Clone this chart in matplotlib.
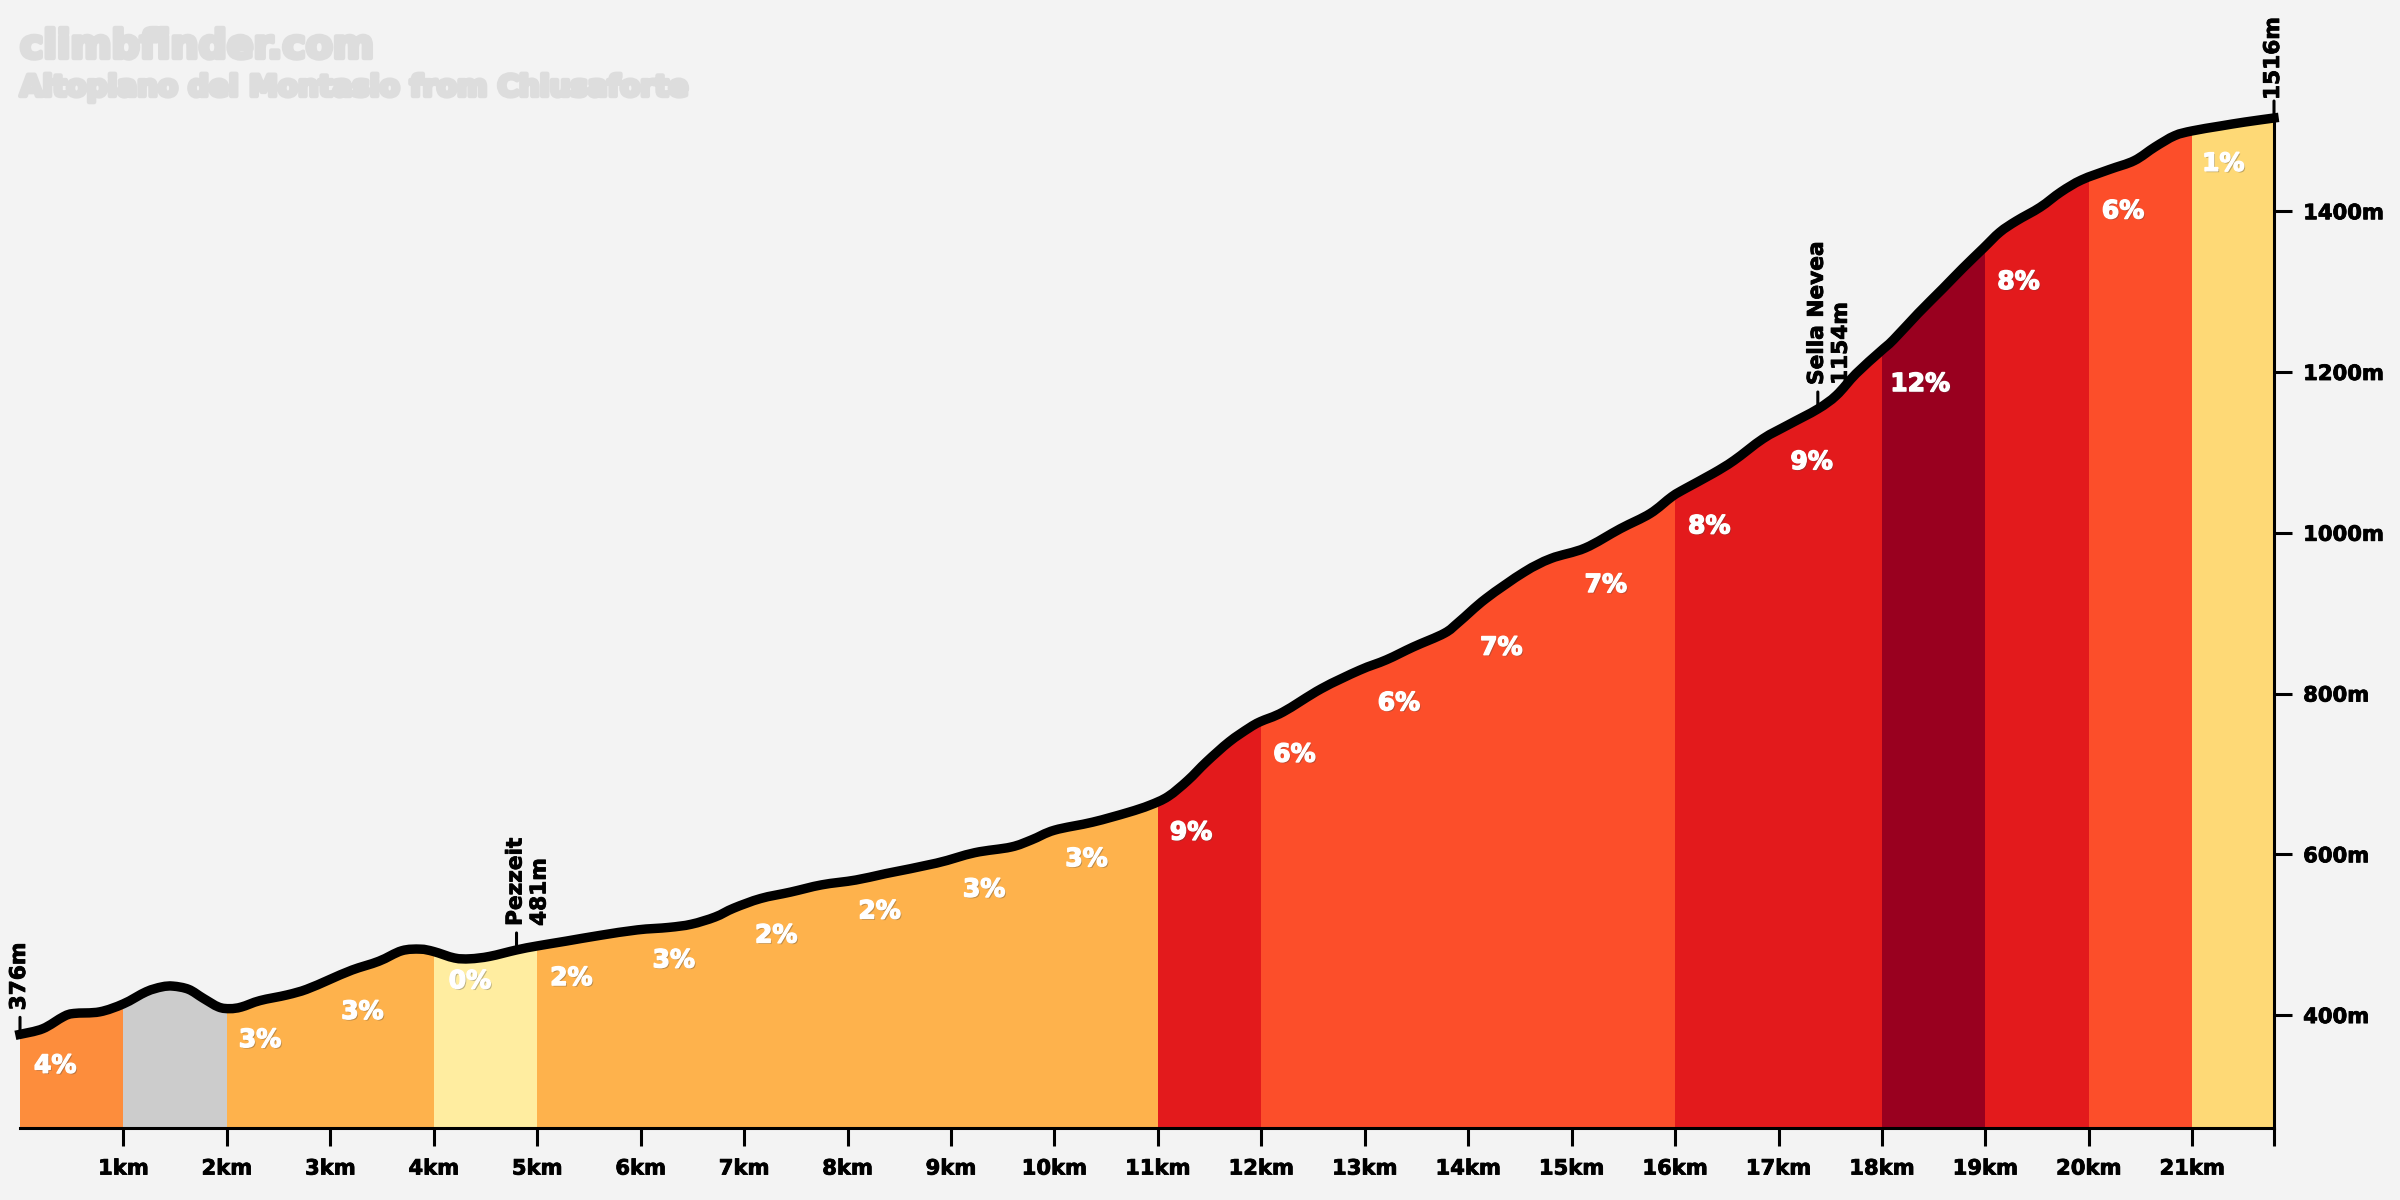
import matplotlib
matplotlib.use("Agg")
import matplotlib.pyplot as plt
import matplotlib.patheffects as pe
from matplotlib.path import Path
from matplotlib.patches import PathPatch

BG = "#f3f3f3"

# profile
km = [0, 0.22, 0.42, 0.52, 0.77, 1.0, 1.22, 1.37, 1.48, 1.63, 1.77, 1.92, 2.03, 2.14, 2.32,
      2.58, 2.77, 2.99, 3.21, 3.47, 3.69, 3.87, 4.0, 4.2, 4.35, 4.54, 4.8, 5.0, 5.28, 5.6,
      5.97, 6.27, 6.49, 6.72, 6.9, 7.16, 7.45, 7.75, 8.08, 8.37, 8.86, 9.23, 9.58, 9.78, 10.0,
      10.37, 10.71, 10.92, 11.1, 11.29, 11.47, 11.69, 11.88, 11.99, 12.21, 12.58, 12.95, 13.21,
      13.47, 13.77, 13.91, 14.17, 14.54, 14.8, 15.13, 15.47, 15.76, 15.97, 16.1, 16.37, 16.57,
      16.85, 17.09, 17.38, 17.56, 17.75, 17.98, 18.11, 18.35, 18.59, 18.78, 18.98, 19.14, 19.3,
      19.53, 19.73, 19.93, 20.2, 20.44, 20.64, 20.83, 21.0, 21.27, 21.51, 21.79]
elev = [376, 383, 398, 402, 404, 414, 429, 435, 436, 432, 421, 410, 408, 410, 418,
        425, 432, 444, 456, 467, 480, 482, 479, 471, 470, 473, 481, 486, 492, 499,
        506, 509, 513, 522, 533, 545, 553, 562, 568, 576, 589, 602, 609, 618, 630,
        640, 652, 661, 672, 692, 715, 740, 757, 765, 777, 806, 829, 842,
        858, 875, 889, 918, 951, 968, 981, 1005, 1024, 1045, 1055, 1074, 1090,
        1117, 1134, 1154, 1171, 1198, 1225, 1240, 1273, 1304, 1329, 1354, 1374, 1388,
        1405, 1424, 1439, 1452, 1463, 1480, 1494, 1500, 1506, 1511, 1516]

seg_start = [0, 1, 2, 4, 5, 11, 12, 16, 18, 19, 20, 21]
seg_width = [1, 1, 2, 1, 6, 1, 4, 2, 1, 1, 1, 0.79]
seg_color = ["#fd8d3c", "#cccccc", "#feb24c", "#ffeda0", "#feb24c", "#e31a1c",
             "#fc4e2a", "#e31a1c", "#99001f", "#e31a1c", "#fc4e2a", "#fed976"]

pct_text = ["4%", "3%", "3%", "0%", "2%", "3%", "2%", "2%", "3%", "3%", "9%",
            "6%", "6%", "7%", "7%", "8%", "9%", "12%", "8%", "6%", "1%"]
pct_km = [0.34, 2.32, 3.31, 4.35, 5.33, 6.32, 7.31, 8.31, 9.32, 10.31, 11.32,
          12.32, 13.33, 14.32, 15.33, 16.33, 17.32, 18.37, 19.32, 20.33, 21.3]
pct_el = [337, 369, 404, 442, 446, 468, 499, 529, 556, 594, 627,
          724, 788, 857, 935, 1008, 1088, 1185, 1312, 1400, 1459]

point_labels = ["376m", "Pezzeit\n481m", "Sella Nevea\n1154m", "1516m"]
point_km = [0, 4.8, 17.38, 21.79]
point_el = [376, 481, 1154, 1516]
label_gap = [24, 24, 24, 18]

km_ticks = list(range(1, 22))
km_tick_labels = [f"{k}km" for k in km_ticks]
el_ticks = [400, 600, 800, 1000, 1200, 1400]
el_tick_labels = [f"{e}m" for e in el_ticks]

BASE = 259.5
TOP = 1516


def smooth_path(xs, ys):
    # catmull-rom through the read points, as bezier segments
    verts = [(xs[0], ys[0])]
    codes = [Path.MOVETO]
    n = len(xs)
    for i in range(n - 1):
        x0, y0 = xs[max(i - 1, 0)], ys[max(i - 1, 0)]
        x1, y1 = xs[i], ys[i]
        x2, y2 = xs[i + 1], ys[i + 1]
        x3, y3 = xs[min(i + 2, n - 1)], ys[min(i + 2, n - 1)]
        verts += [(x1 + (x2 - x0) / 6, y1 + (y2 - y0) / 6),
                  (x2 - (x3 - x1) / 6, y2 - (y3 - y1) / 6),
                  (x2, y2)]
        codes += [Path.CURVE4] * 3
    return verts, codes


plt.rcParams["font.family"] = ["DejaVu Sans"]
fig = plt.figure(figsize=(12, 6), dpi=200, facecolor=BG)
ax = fig.add_axes([20 / 2400, 72 / 1200, 2254 / 2400, 1010 / 1200], facecolor=BG)
ax.set_xlim(0, 21.79)
ax.set_ylim(BASE, TOP)

verts, codes = smooth_path(km, elev)
area = Path(verts + [(km[-1], BASE), (km[0], BASE), (km[0], elev[0])],
            codes + [Path.LINETO, Path.LINETO, Path.CLOSEPOLY])
bars = ax.bar(seg_start, TOP - BASE, width=seg_width, bottom=BASE, align="edge",
              color=seg_color, linewidth=0, zorder=1)
for bar in bars:
    bar.set_clip_path(area, ax.transData)

ax.add_patch(PathPatch(Path(verts, codes), facecolor="none", edgecolor="black", lw=3.4,
                       capstyle="projecting", joinstyle="round", clip_on=False, zorder=3))

pct_fx = [pe.withSimplePatchShadow(offset=(0.5, -0.5), shadow_rgbFace="#444444", alpha=0.35),
          pe.withStroke(linewidth=0.5, foreground="white")]
for t, x, y in zip(pct_text, pct_km, pct_el):
    ax.text(x, y, t, color="white", fontsize=9, fontweight="bold", ha="center", va="center",
            path_effects=pct_fx, zorder=4)

bold_fx = [pe.withStroke(linewidth=0.3, foreground="black")]
for t, x, y, gap in zip(point_labels, point_km, point_el, label_gap):
    ax.annotate("", xy=(x, y), xytext=(0, 17), textcoords="offset pixels", annotation_clip=False,
                arrowprops=dict(arrowstyle="-", lw=1.1, color="black", shrinkA=0, shrinkB=0), zorder=2)
    ax.annotate(t, xy=(x, y), xytext=(-11, gap), textcoords="offset pixels", rotation=90,
                ha="left", va="bottom", multialignment="left", fontsize=7.8, fontweight="bold",
                linespacing=1.25, annotation_clip=False, color="black", path_effects=bold_fx)

for side in ["top", "left"]:
    ax.spines[side].set_visible(False)
ax.spines["bottom"].set_linewidth(1.1)
ax.spines["bottom"].set_capstyle("projecting")
ax.spines["right"].set_linewidth(1.1)
ax.yaxis.tick_right()
ax.set_xticks(km_ticks + [21.79], km_tick_labels + [""])
ax.set_yticks(el_ticks, el_tick_labels)
ax.tick_params(axis="x", length=6.5, width=1.1, labelsize=7.6, pad=4.5)
ax.tick_params(axis="y", length=6.5, width=1.1, labelsize=7.6, pad=4)
for lab in ax.get_xticklabels() + ax.get_yticklabels():
    lab.set_fontweight("bold")
    lab.set_path_effects(bold_fx)

thick = [pe.withStroke(linewidth=1.6, foreground="#dddddd")]
fig.text(20 / 2400, 1 - 58 / 1200, "climbfinder.com", color="#dddddd", fontsize=14.2,
         fontweight="bold", path_effects=thick)
fig.text(20 / 2400, 1 - 96 / 1200, "Altopiano del Montasio from Chiusaforte", color="#dddddd",
         fontsize=10.5, fontweight="bold", path_effects=thick)

fig.savefig("out.png", facecolor=BG)
